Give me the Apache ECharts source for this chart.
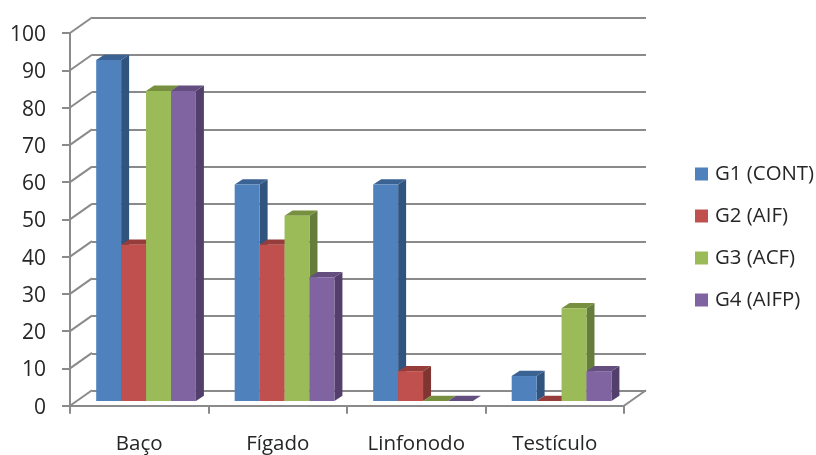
<!DOCTYPE html>
<html>
<head>
<meta charset="utf-8">
<style>html,body{margin:0;padding:0;background:#fff}#chart{width:816px;height:455px}</style>
<script src="https://cdn.jsdelivr.net/npm/echarts@6/dist/echarts.min.js"></script>
</head>
<body>
<div id="chart"></div>
<script>
// Percentages per organ for each treatment group
const categories = ['Baço', 'Fígado', 'Linfonodo', 'Testículo'];
const g1Values = [91.5, 58.1, 58.1, 6.7];
const g2Values = [41.9, 41.9, 8.0, 0];
const g3Values = [83.2, 49.7, 0, 24.9];
const g4Values = [83.2, 33.2, 0, 8.0];
const tickValues = [0, 10, 20, 30, 40, 50, 60, 70, 80, 90, 100];

const FONT = '"Open Sans", sans-serif';
const TEXT = '#262626';
const FRAME = '#8a8a8a';

// Oblique projection used for the 3D look
const WALL_DX = 22, WALL_DY = -15.5;   // floor depth, front axis to back wall
const BAR_DX = 6.8, BAR_DY = -4.7;     // bars stand slightly behind the front axis
const DEPTH_DX = 8, DEPTH_DY = -5.3;   // depth of each bar
const CAT_FILL = 0.18;                 // bar width as a share of a category band

function prism(seriesIndex, colors) {
  return function (params, api) {
    const idx = api.value(0), val = api.value(1);
    const band = api.size([1, 0])[0];
    const w = band * CAT_FILL;
    const top = api.coord([idx, val]);
    const base = api.coord([idx, 0]);
    const x0 = top[0] + BAR_DX + (seriesIndex - 2) * w;
    const x1 = x0 + w;
    const yT = top[1] + BAR_DY, yB = base[1] + BAR_DY;
    const dx = DEPTH_DX, dy = DEPTH_DY;
    const poly = (points, fill) => ({
      type: 'polygon', shape: { points: points },
      style: { fill: fill, stroke: null }
    });
    return {
      type: 'group',
      children: [
        poly([[x1, yB], [x1 + dx, yB + dy], [x1 + dx, yT + dy], [x1, yT]], colors.side),
        poly([[x0, yT], [x0 + dx, yT + dy], [x1 + dx, yT + dy], [x1, yT]], colors.top),
        poly([[x0, yT], [x1, yT], [x1, yB], [x0, yB]], colors.front)
      ]
    };
  };
}

function barSeries(name, values, seriesIndex, colors) {
  return {
    name: name, type: 'custom', xAxisIndex: 0, yAxisIndex: 0, z: 5,
    itemStyle: { color: colors.front },
    renderItem: prism(seriesIndex, colors),
    encode: { x: 0, y: 1 },
    data: values.map((v, i) => [i, v])
  };
}

// Slanted links from the value axis to the back wall, plus the floor's right edge
const wallLinks = {
  type: 'custom', xAxisIndex: 0, yAxisIndex: 0, z: 2, silent: true,
  renderItem: function (params, api) {
    const p = api.coord([api.value(0), api.value(1)]);
    const x = p[0] - api.size([1, 0])[0] * (api.value(2) === 0 ? 0.5 : -0.5);
    return {
      type: 'line',
      shape: { x1: x, y1: p[1], x2: x + WALL_DX, y2: p[1] + WALL_DY },
      style: { stroke: FRAME, lineWidth: 2 }
    };
  },
  encode: { x: 0, y: 1 },
  data: tickValues.map(v => [0, v, 0]).concat([[categories.length - 1, 0, 1]])
};

const option = {
  animation: false,
  backgroundColor: '#ffffff',
  grid: [
    { left: 70, right: 192, top: 33, height: 372.7 },
    { left: 92, right: 170, top: 17.5, height: 373.2 }
  ],
  xAxis: [
    {
      type: 'category', gridIndex: 0, data: categories,
      axisLine: { show: true, lineStyle: { color: FRAME, width: 2 } },
      axisTick: { show: true, length: 8, alignWithLabel: false, lineStyle: { color: FRAME, width: 2 } },
      axisLabel: { color: TEXT, fontFamily: FONT, fontSize: 20.5, margin: 28 }
    },
    { type: 'category', gridIndex: 1, data: categories, show: false }
  ],
  yAxis: [
    {
      type: 'value', gridIndex: 0, min: 0, max: 100, interval: 10,
      axisLine: { show: true, lineStyle: { color: FRAME, width: 2 } },
      axisTick: { show: true, length: 8, lineStyle: { color: FRAME, width: 2 } },
      axisLabel: { color: TEXT, fontFamily: FONT, fontSize: 21, margin: 24, verticalAlign: 'top', lineHeight: 4 },
      splitLine: { show: false }
    },
    {
      type: 'value', gridIndex: 1, min: 0, max: 100, interval: 10,
      axisLine: { show: false }, axisTick: { show: false }, axisLabel: { show: false },
      splitLine: { show: true, lineStyle: { color: FRAME, width: 2 } }
    }
  ],
  legend: {
    orient: 'vertical', left: 695, top: 162, padding: 0,
    data: ['G1 (CONT)', 'G2 (AIF)', 'G3 (ACF)', 'G4 (AIFP)'],
    icon: 'rect', itemWidth: 13, itemHeight: 13, itemGap: 18, selectedMode: false,
    textStyle: { color: TEXT, fontFamily: FONT, fontSize: 20.4, lineHeight: 24, padding: [0, 0, 0, 2] }
  },
  series: [
    wallLinks,
    barSeries('G1 (CONT)', g1Values, 0, { front: '#4f81bd', side: '#31547f', top: '#3a6292' }),
    barSeries('G2 (AIF)', g2Values, 1, { front: '#c0504d', side: '#7f3532', top: '#963c3a' }),
    barSeries('G3 (ACF)', g3Values, 2, { front: '#9bbb59', side: '#657d3a', top: '#76903f' }),
    barSeries('G4 (AIFP)', g4Values, 3, { front: '#8064a2', side: '#533f6b', top: '#644e80' })
  ]
};

echarts.init(document.getElementById('chart'), null, { renderer: 'canvas' }).setOption(option);
</script>
</body>
</html>
